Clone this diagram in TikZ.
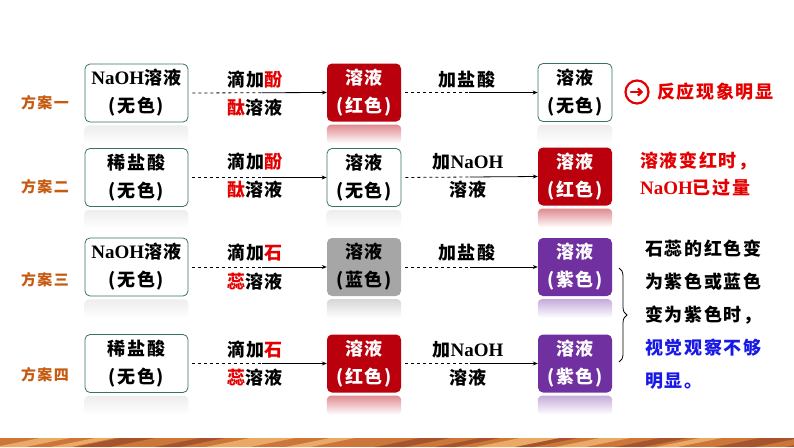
\documentclass[tikz,border=0pt]{standalone}
\usepackage{fontspec}
\setmainfont{Liberation Serif}
\newfontfamily\cjk{Noto Sans CJK SC}[LetterSpace=9]
\usetikzlibrary{decorations.pathreplacing,arrows.meta,calc}

\definecolor{boxline}{RGB}{55,115,95}
\definecolor{boxred}{RGB}{185,0,12}
\definecolor{boxgray}{RGB}{166,166,166}
\definecolor{boxpurple}{RGB}{112,48,160}
\definecolor{planbrown}{RGB}{197,90,17}
\definecolor{warnred}{RGB}{228,0,0}
\definecolor{noteblue}{RGB}{25,25,230}
\definecolor{bandbase}{RGB}{205,118,58}
\definecolor{bandlight}{RGB}{242,182,112}
\definecolor{banddark}{RGB}{140,62,36}

\newcommand{\lat}[1]{{\rmfamily\bfseries\fontsize{19}{28}\selectfont #1}}
\newcommand{\hl}[1]{\textcolor{warnred}{#1}}

\tikzset{
  txt/.style={font=\cjk\bfseries\fontsize{18}{28}\selectfont, inner sep=0pt},
  sol/.style={txt, rounded corners=5pt, align=center, minimum height=58pt},
  wide/.style={minimum width=103pt},
  narrow/.style={minimum width=74pt},
  plainbox/.style={sol, draw=boxline, fill=white, line width=0.8pt},
  redbox/.style={sol, fill=boxred, text=white},
  graybox/.style={sol, fill=boxgray, text=black},
  purplebox/.style={sol, fill=boxpurple, text=white},
  plan/.style={font=\cjk\bfseries\fontsize{15}{16}\selectfont, text=planbrown},
  dashpart/.style={line width=0.8pt, dash pattern=on 3pt off 3pt, shorten <=4pt},
  solidpart/.style={line width=0.8pt, -{Stealth[length=5pt,width=4pt]}},
}

\begin{document}
\begin{tikzpicture}[x=1pt,y=-1pt]
\useasboundingbox (0,0) rectangle (794,447);

\node[plan] (p1) at (45,103) {方案一};
\node[plan] (p2) at (45,187) {方案二};
\node[plan] (p3) at (45,280) {方案三};
\node[plan] (p4) at (45,375) {方案四};

% row 1
\node[plainbox,wide] (b11) at (136.5,93) {\lat{NaOH}溶液\\(无色)};
\node[redbox,narrow] (b12) at (364,92.5) {溶液\\(红色)};
\node[plainbox,narrow] (b13) at (575,92.5) {溶液\\(无色)};
% row 2
\node[plainbox,wide] (b21) at (136.5,177.5) {稀盐酸\\(无色)};
\node[plainbox,narrow] (b22) at (364,177.5) {溶液\\(无色)};
\node[redbox,narrow] (b23) at (575,176.5) {溶液\\(红色)};
% row 3
\node[plainbox,wide] (b31) at (136.5,267) {\lat{NaOH}溶液\\(无色)};
\node[graybox,narrow] (b32) at (364,267) {溶液\\(蓝色)};
\node[purplebox,narrow] (b33) at (575,267) {溶液\\(紫色)};
% row 4
\node[plainbox,wide] (b41) at (136.5,363.5) {稀盐酸\\(无色)};
\node[redbox,narrow] (b42) at (364,363.5) {溶液\\(红色)};
\node[purplebox,narrow] (b43) at (575,363.5) {溶液\\(紫色)};

\foreach \n/\c in {b11/black!7,b12/boxred!45,b13/black!7,
                   b21/black!7,b22/black!7,b23/boxred!45,
                   b31/black!7,b32/boxgray!45,b33/boxpurple!40,
                   b41/black!7,b42/boxred!45,b43/boxpurple!40}
  \shade[top color=\c, bottom color=white, rounded corners=4pt]
    ([yshift=-3pt]\n.south west) rectangle ([yshift=-22pt]\n.south east);

\foreach \r in {1,2,3,4} {
  \coordinate (ma\r) at ($(b\r1.east)!0.53!(b\r2.west)$);
  \coordinate (mb\r) at ($(b\r2.east)!0.5!(b\r3.west)$);
  \draw[dashpart] (b\r1.east) -- (ma\r);
  \draw[solidpart] (ma\r) -- (b\r2.west);
  \draw[dashpart] (b\r2.east) -- (mb\r);
  \draw[solidpart] (mb\r) -- (b\r3.west);
}

\node[txt] (ta1) at (255,80) {滴加\hl{酚}};
\node[txt] (ua1) at (255,108) {\hl{酞}溶液};
\node[txt] (tb1) at (467,80) {加盐酸};

\node[txt] (ta2) at (255,162) {滴加\hl{酚}};
\node[txt] (ua2) at (255,190) {\hl{酞}溶液};
\node[txt] (tb2) at (468,162) {加\lat{NaOH}};
\node[txt] (ub2) at (468,190) {溶液};

\node[txt] (ta3) at (255,253) {滴加\hl{石}};
\node[txt] (ua3) at (255,282) {\hl{蕊}溶液};
\node[txt] (tb3) at (467,253) {加盐酸};

\node[txt] (ta4) at (255,350) {滴加\hl{石}};
\node[txt] (ua4) at (255,378) {\hl{蕊}溶液};
\node[txt] (tb4) at (468,350) {加\lat{NaOH}};
\node[txt] (ub4) at (468,378) {溶液};

% right side notes
\node[circle, draw=warnred, line width=2.2pt, minimum size=23pt, inner sep=0pt] (icon) at (637,92) {};
\draw[warnred, line width=2.2pt, line cap=round, -{Straight Barb[length=3.5pt,width=7pt]}]
  ([xshift=-6pt]icon.center) -- ([xshift=6pt]icon.center);
\node[txt, text=warnred, anchor=west] (res1) at (657,92) {反应现象明显};

\node[txt, text=warnred, anchor=west, align=left, font=\cjk\bfseries\fontsize{18}{27}\selectfont]
  (res2) at (640,174) {溶液变红时，\\\lat{NaOH}已过量};

\coordinate (bra) at (619,268);
\coordinate (brb) at (619,362);
\draw[line width=0.8pt, decorate, decoration={brace, amplitude=8pt}] (bra) -- (brb);

\node[txt, anchor=north west, align=left, font=\cjk\bfseries\fontsize{18}{33}\selectfont]
  (res3) at (645,240) {石蕊的红色变\\为紫色或蓝色\\变为紫色时，\\
  \textcolor{noteblue}{视觉观察不够}\\\textcolor{noteblue}{明显。}};

% bottom strip
\fill[bandbase] (0,438) rectangle (794,447);
\begin{scope}
\clip (0,438) rectangle (794,447);
\foreach \x/\w in {40/30,95/20,250/45,330/25,520/40,600/30,700/22,880/50,960/25,1040/35}
  \fill[bandlight, opacity=0.8] (\x,438) -- ++(\w,0) -- ++(-45,9) -- ++(-\w,0) -- cycle;
\foreach \x/\w in {120/35,200/25,420/30,480/20,560/18,660/28,760/40,830/30,1000/25}
  \fill[banddark, opacity=0.6] (\x,438) -- ++(\w,0) -- ++(-45,9) -- ++(-\w,0) -- cycle;
\end{scope}
\end{tikzpicture}
\end{document}
